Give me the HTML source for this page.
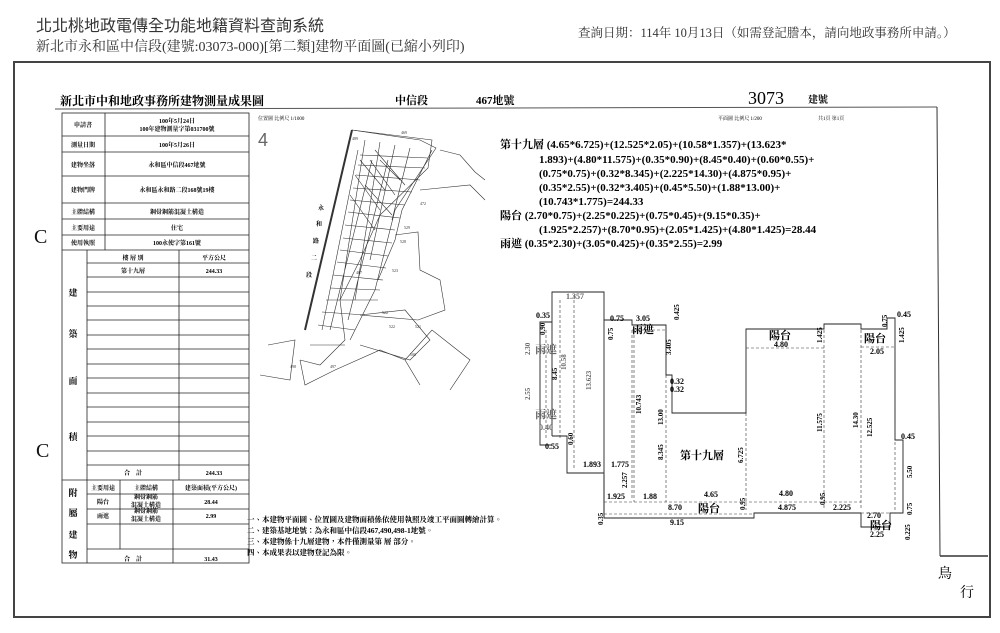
<!DOCTYPE html>
<html><head><meta charset="utf-8"><style>
html,body{margin:0;padding:0;background:#fff;}
body{width:1000px;height:633px;position:relative;overflow:hidden;font-family:"Liberation Serif","Noto Serif CJK SC","Noto Sans CJK TC",serif;color:#111;}
.t{position:absolute;white-space:nowrap;}
svg{position:absolute;left:0;top:0;}
</style></head><body>
<div class="t" style="left:36px;top:12px;font-size:16px;color:#333;font-family:'Liberation Sans','Noto Sans CJK TC',sans-serif;">北北桃地政電傳全功能地籍資料查詢系統</div>
<div class="t" style="left:36px;top:36px;font-size:14px;color:#333;">新北市永和區中信段(建號:03073-000)[第二類]建物平面圖(已縮小列印)</div>
<div class="t" style="left:578px;top:23px;font-size:12.5px;color:#333;">查詢日期：114年 10月13日（如需登記謄本，請向地政事務所申請。）</div>

<svg width="1000" height="633" viewBox="0 0 1000 633" font-family="Liberation Serif, Noto Serif CJK TC, serif">
<rect x="14" y="62" width="976" height="555" fill="none" stroke="#444" stroke-width="2"/>
<text x="60" y="105" font-size="12" font-weight="bold">新北市中和地政事務所建物測量成果圖</text>
<text x="395" y="104" font-size="11" font-weight="bold">中信段</text>
<text x="476" y="104" font-size="11" font-weight="bold">467地號</text>
<text x="748" y="104" font-size="18">3073</text>
<text x="808" y="103" font-size="10" font-weight="bold">建號</text>
<line x1="55" y1="109" x2="937" y2="107" stroke="#555" stroke-width="1"/>
<line x1="937" y1="107" x2="940" y2="556" stroke="#333" stroke-width="1"/>
<line x1="940" y1="556" x2="988" y2="556" stroke="#333" stroke-width="1.5"/>
<text x="718" y="120" font-size="5">平面圖 比例尺 1/200</text>
<text x="818" y="120" font-size="5">共1頁 第1頁</text>
<text x="258" y="120" font-size="5">位置圖 比例尺 1/1000</text>
<text x="258" y="146" font-size="18" fill="#666" font-family="Liberation Sans">4</text>
<text x="938" y="578" font-size="14">鳥</text>
<text x="960" y="597" font-size="14">行</text>
<g stroke="#222" stroke-width="0.8" fill="none">
<rect x="62" y="113" width="187" height="450"/>
<line x1="105" y1="113" x2="105" y2="250"/>
<line x1="62" y1="136" x2="249" y2="136"/>
<line x1="62" y1="152" x2="249" y2="152"/>
<line x1="62" y1="176" x2="249" y2="176"/>
<line x1="62" y1="203" x2="249" y2="203"/>
<line x1="62" y1="219" x2="249" y2="219"/>
<line x1="62" y1="235" x2="249" y2="235"/>
<line x1="62" y1="250" x2="249" y2="250"/>
<line x1="87" y1="250" x2="87" y2="563"/>
<line x1="179" y1="250" x2="179" y2="480"/>
<line x1="87" y1="263" x2="249" y2="263"/>
<line x1="87" y1="277" x2="249" y2="277"/>
<line x1="87" y1="292" x2="249" y2="292"/>
<line x1="87" y1="306" x2="249" y2="306"/>
<line x1="87" y1="320" x2="249" y2="320"/>
<line x1="87" y1="335" x2="249" y2="335"/>
<line x1="87" y1="349" x2="249" y2="349"/>
<line x1="87" y1="364" x2="249" y2="364"/>
<line x1="87" y1="378" x2="249" y2="378"/>
<line x1="87" y1="393" x2="249" y2="393"/>
<line x1="87" y1="407" x2="249" y2="407"/>
<line x1="87" y1="422" x2="249" y2="422"/>
<line x1="87" y1="436" x2="249" y2="436"/>
<line x1="87" y1="451" x2="249" y2="451"/>
<line x1="87" y1="465" x2="249" y2="465"/>
<line x1="62" y1="480" x2="249" y2="480"/>
<line x1="120" y1="480" x2="120" y2="549"/>
<line x1="173" y1="480" x2="173" y2="563"/>
<line x1="87" y1="494" x2="249" y2="494"/>
<line x1="87" y1="509" x2="249" y2="509"/>
<line x1="87" y1="524" x2="249" y2="524"/>
<line x1="87" y1="549" x2="249" y2="549"/>
</g>
<g font-size="6" font-weight="bold" text-anchor="middle">
<text x="83" y="127">申請書</text>
<text x="177" y="123">100年5月24日</text><text x="177" y="131">100年建物測量字第031700號</text>
<text x="83" y="147">測量日期</text><text x="177" y="147">100年5月26日</text>
<text x="83" y="167">建物坐落</text><text x="177" y="167">永和區中信段467地號</text>
<text x="83" y="192">建物門牌</text><text x="177" y="192">永和區永和路二段168號19樓</text>
<text x="83" y="214">主體結構</text><text x="177" y="214">鋼骨鋼筋混凝土構造</text>
<text x="83" y="230">主要用途</text><text x="177" y="230">住宅</text>
<text x="83" y="245">使用執照</text><text x="177" y="245">100永使字第161號</text>
<text x="133" y="260">樓 層 別</text><text x="214" y="260">平方公尺</text>
<text x="133" y="273">第十九層</text><text x="214" y="273">244.33</text>
<text x="133" y="475">合　計</text><text x="214" y="475">244.33</text>
<text x="103" y="490">主要用途</text><text x="146" y="490">主體結構</text><text x="211" y="490">建築面積(平方公尺)</text>
<text x="103" y="504">陽台</text><text x="146" y="499">鋼骨鋼筋</text><text x="146" y="507">混凝土構造</text><text x="211" y="504">28.44</text>
<text x="103" y="518">雨遮</text><text x="146" y="513">鋼骨鋼筋</text><text x="146" y="521">混凝土構造</text><text x="211" y="518">2.99</text>
<text x="133" y="561">合　計</text><text x="211" y="561">31.43</text>
</g>
<g font-size="9" font-weight="bold" text-anchor="middle">
<text x="73" y="296">建</text><text x="73" y="337">築</text><text x="73" y="384">面</text><text x="73" y="440">積</text>
<text x="73" y="496">附</text><text x="73" y="516">屬</text><text x="73" y="538">建</text><text x="73" y="558">物</text>
</g>
<text x="34" y="243" font-size="20" fill="#111">C</text>
<text x="36" y="457" font-size="20" fill="#111">C</text>
<g font-size="7.5" font-weight="bold">
<text x="247" y="522">一、本建物平面圖、位置圖及建物面積係依使用執照及竣工平面圖轉繪計算。</text>
<text x="247" y="533">二、建築基地地號：為永和區中信段467,490,498-1地號。</text>
<text x="247" y="544">三、本建物係十九層建物，本件僅測量第 層 部分。</text>
<text x="247" y="555">四、本成果表以建物登記為限。</text>
</g>
<g stroke="#333" stroke-width="0.6" fill="none">
<line x1="352" y1="130" x2="305" y2="330" stroke-width="2"/>
<polyline points="352,130 432,140 428,168 380,215 360,260 340,300 345,340 320,365 300,360"/>
<polyline points="352,130 420,140 436,148 395,210 375,290 350,340"/>
<polyline points="432,150 402,210 395,240 378,280"/>
<path d="M360,155 L428,158 M356,175 L420,180 M350,200 L405,205 M345,225 L395,230 M340,250 L388,256 M333,275 L383,280 M326,300 L378,300 M318,325 L355,330 M310,345 L345,345 M358,165 L425,168 M353,188 L412,192 M348,212 L400,218 M343,238 L392,243 M337,262 L386,268 M330,288 L380,290 M322,312 L365,315"/>
<path d="M365,140 L340,300 M380,142 L355,300 M395,145 L370,260 M410,148 L392,220 M372,160 L330,330 M388,160 L348,320 M358,150 L322,330"/>
<path d="M360,160 L385,190 M370,160 L395,195 M380,160 L400,180 M355,175 L380,210 M365,185 L392,215 M350,195 L375,230 M375,150 L405,185"/>
<polyline points="395,235 418,232 420,270 440,280 445,310 418,320 360,315"/>
<polyline points="360,315 405,310 430,340 410,360 360,345"/>
<polyline points="300,360 305,385 335,370 380,350 405,360 420,385"/>
<polyline points="405,360 432,330 470,360 450,390"/>
<polyline points="268,345 295,340 290,380 260,375"/>
<polyline points="440,150 460,155 475,172 485,180"/>
<polyline points="420,190 470,185 485,200"/>
</g>
<g font-size="4" fill="#333">
<text x="352" y="140">489</text><text x="401" y="134">469</text><text x="420" y="205">472</text><text x="404" y="229">529</text>
<text x="400" y="243">528</text><text x="392" y="272">523</text><text x="382" y="314">522</text><text x="389" y="328">522</text>
<text x="415" y="328">521</text><text x="410" y="356">500</text><text x="330" y="368">497</text><text x="290" y="368">498</text>
<text x="356" y="274">467</text>
</g>
<g font-size="6" font-weight="bold"><text x="318" y="210">永</text><text x="316" y="226">和</text><text x="313" y="243">路</text><text x="311" y="260">二</text><text x="306" y="277">段</text></g>
<g font-size="11" font-weight="bold">
<text x="500" y="148">第十九層 (4.65*6.725)+(12.525*2.05)+(10.58*1.357)+(13.623*</text>
<text x="539" y="163">1.893)+(4.80*11.575)+(0.35*0.90)+(8.45*0.40)+(0.60*0.55)+</text>
<text x="539" y="177">(0.75*0.75)+(0.32*8.345)+(2.225*14.30)+(4.875*0.95)+</text>
<text x="539" y="191">(0.35*2.55)+(0.32*3.405)+(0.45*5.50)+(1.88*13.00)+</text>
<text x="539" y="205">(10.743*1.775)=244.33</text>
<text x="500" y="219">陽台 (2.70*0.75)+(2.25*0.225)+(0.75*0.45)+(9.15*0.35)+</text>
<text x="539" y="233">(1.925*2.257)+(8.70*0.95)+(2.05*1.425)+(4.80*1.425)=28.44</text>
<text x="500" y="247">雨遮 (0.35*2.30)+(3.05*0.425)+(0.35*2.55)=2.99</text>
</g>
<g stroke="#222" stroke-width="0.9" fill="none">
<polyline points="552,436 552,292 604,292 604,518 754,518 754,513 861,513 861,527 890,527 890,513 903,513 903,440 895,440 895,318 887,318 887,329 861,329 861,324 824,324 824,329 746,329 746,413 672,413 672,375 666,375 666,325 632,325 632,320 604,320"/>
<polyline points="552,436 567,436 567,473 574,473 604,473"/>
<polyline points="552,322 540,322 540,445 552,445"/>
<line x1="604" y1="475" x2="604" y2="518"/>
</g>
<g stroke="#333" stroke-width="0.6" fill="none" stroke-dasharray="3,2">
<line x1="574" y1="295" x2="574" y2="470"/>
<line x1="632" y1="330" x2="632" y2="500"/>
<line x1="632" y1="330" x2="666" y2="330"/>
<line x1="634" y1="330" x2="634" y2="502"/>
<line x1="666" y1="330" x2="666" y2="502"/>
<line x1="604" y1="502" x2="754" y2="502"/>
<line x1="604" y1="514" x2="754" y2="514"/>
<line x1="746" y1="348" x2="824" y2="348"/>
<line x1="746" y1="413" x2="746" y2="510"/>
<line x1="754" y1="502" x2="861" y2="502"/>
<line x1="824" y1="330" x2="824" y2="510"/>
<line x1="861" y1="330" x2="861" y2="510"/>
<line x1="861" y1="347" x2="895" y2="347"/>
<line x1="895" y1="347" x2="895" y2="510"/>
<line x1="861" y1="513" x2="903" y2="513"/>
<line x1="560" y1="300" x2="560" y2="440"/>
<line x1="546" y1="330" x2="546" y2="440"/>
</g>
<g font-size="8" font-weight="bold">
<text x="566" y="299" fill="#666">1.357</text>
<text x="610" y="321">0.75</text><text x="636" y="321">3.05</text>
<text x="632" y="333" font-size="11">雨遮</text>
<text x="769" y="339" font-size="11">陽台</text><text x="774" y="347">4.80</text>
<text x="864" y="342" font-size="11">陽台</text><text x="870" y="354">2.05</text>
<text x="897" y="317">0.45</text>
<text x="670" y="384">0.32</text><text x="670" y="392">0.32</text>
<text x="901" y="439">0.45</text>
<text x="583" y="467">1.893</text><text x="611" y="467">1.775</text>
<text x="607" y="499">1.925</text><text x="643" y="499">1.88</text>
<text x="704" y="497">4.65</text><text x="779" y="496">4.80</text>
<text x="668" y="510">8.70</text><text x="698" y="512" font-size="11">陽台</text>
<text x="778" y="510">4.875</text><text x="833" y="510">2.225</text>
<text x="670" y="525">9.15</text>
<text x="867" y="518">2.70</text><text x="870" y="529" font-size="11">陽台</text><text x="870" y="537">2.25</text>
<text x="680" y="459" font-size="11">第十九層</text>
<text x="536" y="318">0.35</text><text x="539" y="430" fill="#666">0.40</text><text x="545" y="449">0.55</text>
<text x="535" y="353" font-size="11" fill="#666">雨遮</text><text x="535" y="418" font-size="11" fill="#666">雨遮</text>
</g>
<g font-size="7" font-weight="bold">
<text transform="translate(591,390) rotate(-90)" fill="#666">13.623</text>
<text transform="translate(613,340) rotate(-90)">0.75</text>
<text transform="translate(641,414) rotate(-90)">10.743</text>
<text transform="translate(671,355) rotate(-90)">3.405</text>
<text transform="translate(679,320) rotate(-90)">0.425</text>
<text transform="translate(663,425) rotate(-90)">13.00</text>
<text transform="translate(663,460) rotate(-90)">8.345</text>
<text transform="translate(627,488) rotate(-90)">2.257</text>
<text transform="translate(743,463) rotate(-90)">6.725</text>
<text transform="translate(822,343) rotate(-90)">1.425</text>
<text transform="translate(822,432) rotate(-90)">11.575</text>
<text transform="translate(858,428) rotate(-90)">14.30</text>
<text transform="translate(872,437) rotate(-90)">12.525</text>
<text transform="translate(887,327) rotate(-90)">0.75</text>
<text transform="translate(904,343) rotate(-90)">1.425</text>
<text transform="translate(912,478) rotate(-90)">5.50</text>
<text transform="translate(912,515) rotate(-90)">0.75</text>
<text transform="translate(910,540) rotate(-90)">0.225</text>
<text transform="translate(825,505) rotate(-90)">0.95</text>
<text transform="translate(745,510) rotate(-90)">0.95</text>
<text transform="translate(603,525) rotate(-90)">0.35</text>
<text transform="translate(545,335) rotate(-90)">0.90</text>
<text transform="translate(530,355) rotate(-90)" fill="#666">2.30</text>
<text transform="translate(530,400) rotate(-90)" fill="#666">2.55</text>
<text transform="translate(557,380) rotate(-90)">8.45</text>
<text transform="translate(566,370) rotate(-90)" fill="#666">10.58</text>
<text transform="translate(573,445) rotate(-90)">0.60</text>
</g>
</svg>
</body></html>
